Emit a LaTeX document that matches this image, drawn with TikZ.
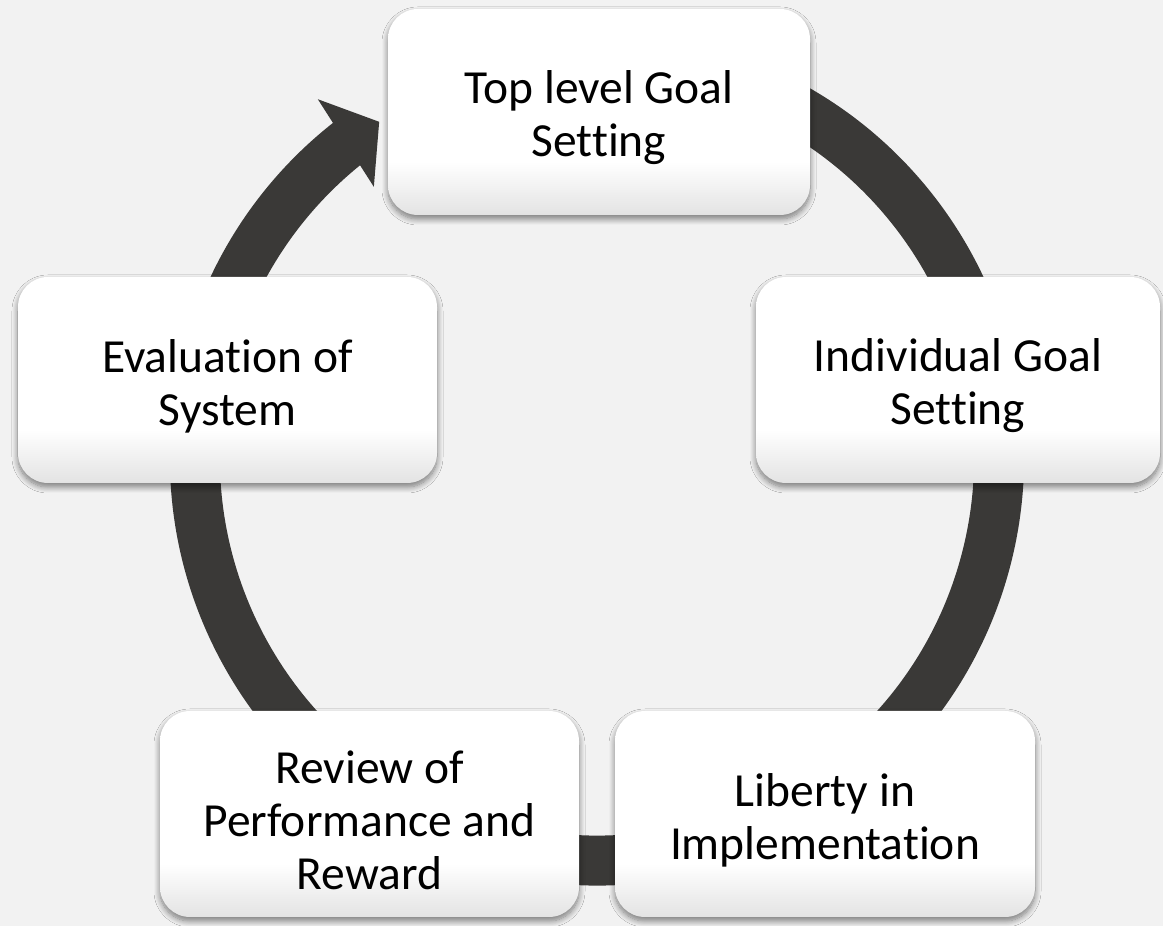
\documentclass[tikz,border=0pt]{standalone}
\usepackage{fontspec}
\setmainfont{Carlito}[Ligatures=NoCommon]
\usetikzlibrary{shadows.blur,calc}
\definecolor{bg}{HTML}{F2F2F2}
\definecolor{ringcol}{HTML}{3A3937}
\pgfdeclareverticalshading{boxshade}{100bp}{color(0bp)=(black!11); color(25bp)=(black!11); color(38bp)=(white); color(100bp)=(white)}
\tikzset{
  stage/.style={rounded corners=30pt, minimum width=#1, minimum height=206pt,
    inner sep=0pt, shading=boxshade,
    blur shadow={shadow xshift=0pt, shadow yshift=-4pt, shadow blur radius=6pt,
      shadow blur steps=10, shadow opacity=50}},
  stagetext/.style={inner sep=0pt, align=center, text=black,
    font=\fontsize{47.5}{53}\selectfont},
  ringline/.style={draw=ringcol, line width=50pt},
}
\begin{document}
\begin{tikzpicture}[x=1pt,y=1pt]
\fill[bg] (0,0) rectangle (1163,926);
\useasboundingbox (0,0) rectangle (1163,926);
\coordinate (c) at (597,467.5);
% circular arrow
\draw[ringline] ($(c)+(75:402)$) arc[start angle=75, end angle=-231.9, radius=402];
\fill[ringcol] ($(c)+(127.85:455)$) coordinate (hb1)
  -- ($(c)+(122.9:401)$) coordinate (htip)
  -- ($(c)+(129.4:351.6)$) coordinate (hb2) -- cycle;
% stages
\node[stage=422pt] (top) at (599,814) {};
\node[stage=404pt] (right) at (958,546) {};
\node[stage=420pt] (bright) at (825,112) {};
\node[stage=419pt] (bleft) at (369.5,112) {};
\node[stage=419pt] (left) at (227.5,546) {};
\node[stagetext] (top-t) at ([yshift=-6pt]top.center) {Top level Goal\\Setting};
\node[stagetext] (right-t) at ([yshift=-6pt]right.center) {Individual Goal\\Setting};
\node[stagetext] (bright-t) at ([yshift=-6pt]bright.center) {Liberty in\\Implementation};
\node[stagetext] (bleft-t) at ([yshift=-6pt]bleft.center) {Review of\\Performance and\\Reward};
\node[stagetext] (left-t) at ([yshift=-6pt]left.center) {Evaluation of\\System};
\end{tikzpicture}
\end{document}
